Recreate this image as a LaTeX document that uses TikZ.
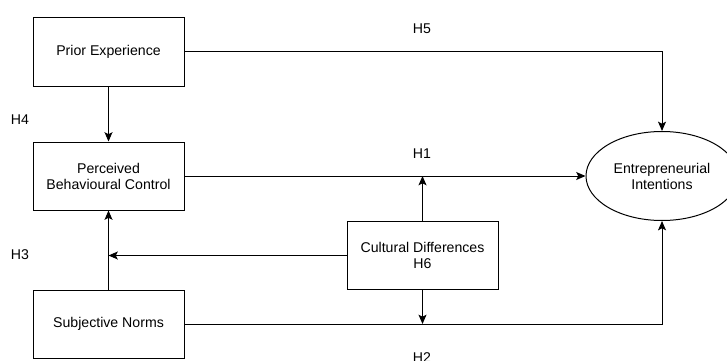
\documentclass[tikz,border=0pt]{standalone}
\usepackage{fontspec}
\setmainfont{Liberation Sans}
\usetikzlibrary{shapes.geometric,arrows.meta}
\begin{document}
\begin{tikzpicture}[x=0.75pt,y=-0.75pt,
  font=\fontsize{10.6pt}{12pt}\selectfont,
  box/.style={draw,line width=0.75pt,minimum width=113.25pt,minimum height=51pt,align=center,inner sep=0pt},
  oval/.style={draw,ellipse,line width=0.75pt,minimum width=114pt,minimum height=66.75pt,align=center,inner sep=0pt},
  arr/.style={line width=0.75pt,-{Stealth[length=7pt,width=6pt,inset=1.5pt]}},
  lbl/.style={inner sep=0pt}]
\useasboundingbox (0,0) rectangle (727,360);
\node[box] (pe) at (108.5,52) {Prior Experience};
\node[box] (pbc) at (108.5,176) {Perceived\\Behavioural Control};
\node[box] (sn) at (108.5,324) {Subjective Norms};
\node[box] (cd) at (422.5,255.5) {Cultural Differences\\H6};
\node[oval] (ei) at (662,176) {Entrepreneurial\\Intentions};
\node[lbl] (h5) at (422,29) {H5};
\node[lbl] (h1) at (422,154) {H1};
\node[lbl] (h4) at (20,120) {H4};
\node[lbl] (h3) at (20,255) {H3};
\node[lbl] (h2) at (422,357.5) {H2};
\draw[arr] (pe.east) -| (ei.north);
\draw[arr] (pe.south) -- (pbc.north);
\draw[arr] (pbc.east) -- (ei.west);
\draw[arr] (sn.north) -- (pbc.south);
\draw[arr] (sn.east) -| (ei.south);
\draw[arr] (cd.north) -- (cd.north |- pbc.east);
\draw[arr] (cd.south) -- (cd.south |- sn.east);
\draw[arr] (cd.west) -- (cd.west -| sn.north);
\end{tikzpicture}
\end{document}
